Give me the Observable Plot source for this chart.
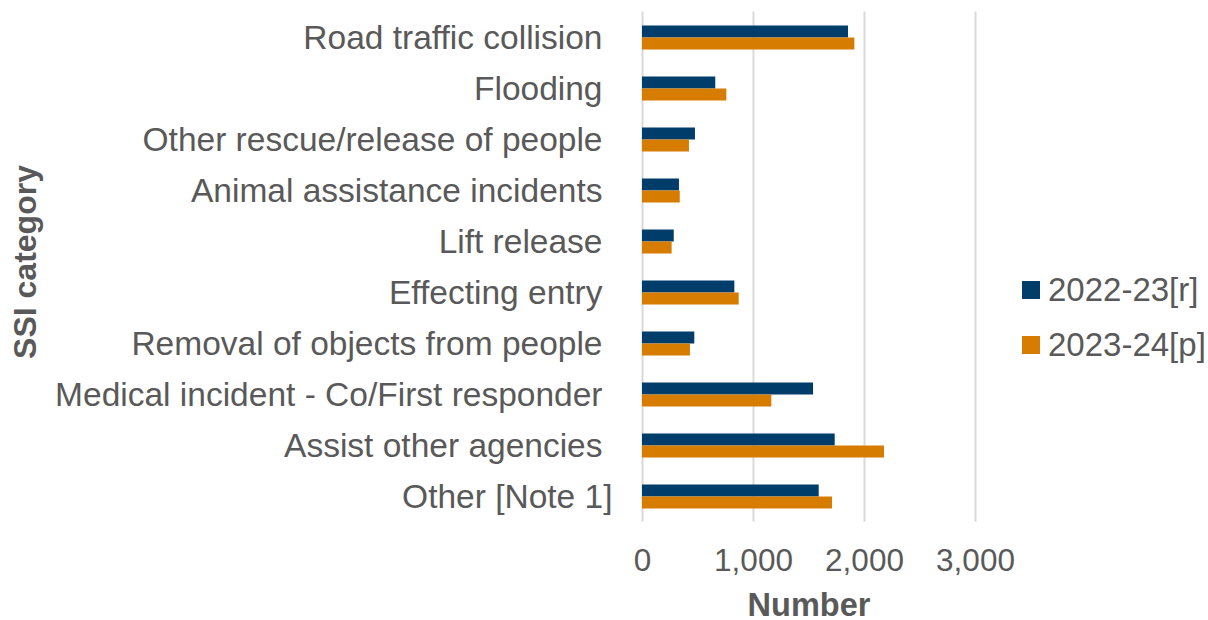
<!DOCTYPE html>
<html>
<head>
<meta charset="utf-8">
<script src="https://cdn.jsdelivr.net/npm/d3@7"></script>
<script src="https://cdn.jsdelivr.net/npm/@observablehq/plot@0.6"></script>
<style>
  html, body { margin: 0; padding: 0; background: #fff; }
  #wrap { position: relative; width: 1208px; height: 620px; font-family: "Liberation Sans", Arial, sans-serif; }
  #legend { position: absolute; left: 1022px; top: 262px; color: #595959; font-size: 33px; line-height: 55px; }
  .item { display: flex; align-items: center; white-space: nowrap; }
  .sw { width: 18px; height: 18px; margin-right: 8px; }
</style>
</head>
<body>
<div id="wrap"></div>
<script>
const categories = [
  "Road traffic collision",
  "Flooding",
  "Other rescue/release of people",
  "Animal assistance incidents",
  "Lift release",
  "Effecting entry",
  "Removal of objects from people",
  "Medical incident - Co/First responder",
  "Assist other agencies",
  "Other [Note 1]"
];
const seriesNames = ["2022-23[r]", "2023-24[p]"];
const values2223 = [1856, 660, 477, 333, 286, 832, 471, 1541, 1736, 1592];
const values2324 = [1913, 760, 423, 340, 267, 871, 432, 1165, 2180, 1712];
const xTicks = [0, 1000, 2000, 3000];
const colors = ["#003d6a", "#d67c00"];
const textColor = "#595959";

const rows1 = categories.map((c, i) => ({category: c, value: values2223[i]}));
const rows2 = categories.map((c, i) => ({category: c, value: values2324[i]}));

const chart = Plot.plot({
  width: 1208,
  height: 620,
  marginLeft: 642,
  marginRight: 233,
  marginTop: 11.5,
  marginBottom: 98.5,
  style: {fontFamily: '"Liberation Sans", Arial, sans-serif', color: textColor, background: "#fff"},
  x: {domain: [0, 3000]},
  y: {domain: categories, padding: 0},
  marks: [
    Plot.ruleX(xTicks, {stroke: "#d9d9d9", strokeWidth: 2}),
    Plot.barX(rows1, {x: "value", y: "category", fill: colors[0], insetTop: 13.5, insetBottom: 25.5}),
    Plot.barX(rows2, {x: "value", y: "category", fill: colors[1], insetTop: 25.5, insetBottom: 13.5}),
    Plot.axisX({ticks: xTicks, tickFormat: d3.format(","), tickSize: 0, tickPadding: 27, fontSize: 31.5, fill: textColor, label: null}),
    Plot.axisY({ticks: categories.slice(0, categories.length - 1), tickSize: 0, tickPadding: 40, fontSize: 33.5, fill: textColor, label: null}),
    Plot.axisY({ticks: categories.slice(categories.length - 1), tickSize: 0, tickPadding: 30, fontSize: 33.5, fill: textColor, label: null}),
    Plot.text(["Number"], {frameAnchor: "bottom", dy: 84, fontSize: 32.5, fontWeight: "bold", fill: textColor, lineAnchor: "middle", textAnchor: "middle"}),
    Plot.text(["SSI category"], {frameAnchor: "left", dx: -617, dy: -5, rotate: -90, fontSize: 32, fontWeight: "bold", fill: textColor, lineAnchor: "middle", textAnchor: "middle"})
  ]
});

const wrap = document.getElementById("wrap");
wrap.appendChild(chart);
const legend = document.createElement("div");
legend.id = "legend";
seriesNames.forEach((name, i) => {
  const item = document.createElement("div");
  item.className = "item";
  const sw = document.createElement("span");
  sw.className = "sw";
  sw.style.background = colors[i];
  const t = document.createElement("span");
  t.textContent = name;
  item.appendChild(sw);
  item.appendChild(t);
  legend.appendChild(item);
});
wrap.appendChild(legend);
</script>
</body>
</html>
